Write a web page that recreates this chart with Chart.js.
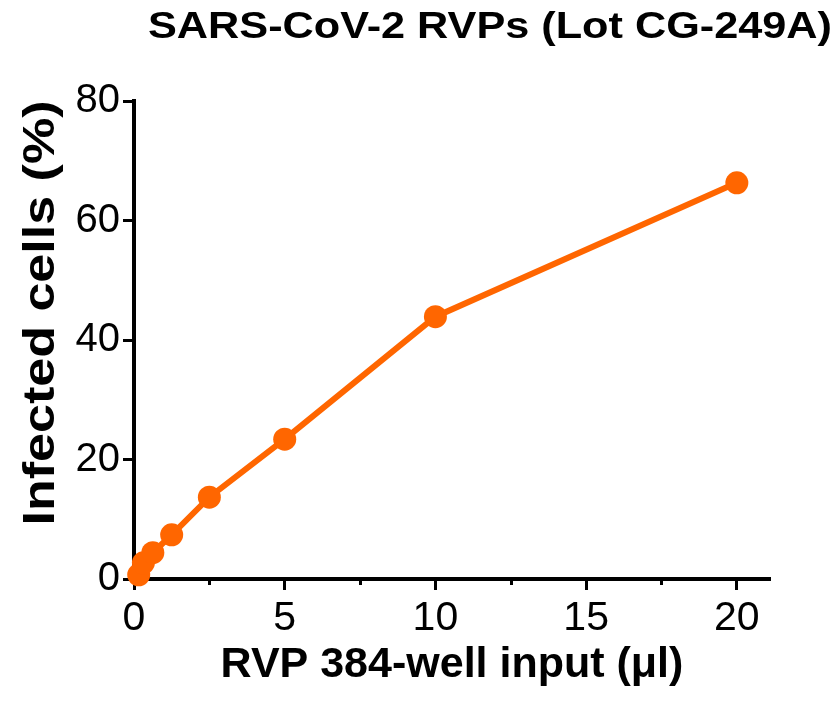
<!DOCTYPE html>
<html>
<head>
<meta charset="utf-8">
<script src="https://cdn.jsdelivr.net/npm/chart.js@4.4.1/dist/chart.umd.min.js"></script>
<style>
  html, body { margin: 0; padding: 0; background: #fff; }
  #wrap { width: 839px; height: 704px; }
</style>
</head>
<body>
<div id="wrap"><canvas id="rvpChart" width="839" height="704"></canvas></div>
<script>
// RVP input (ul) and % infected cells
var rvpInput = [0.156, 0.3125, 0.625, 1.25, 2.5, 5, 10, 20];
var infected = [0.7, 2.7, 4.4, 7.4, 13.7, 23.4, 43.9, 66.3];
var xTicks = [0, 5, 10, 15, 20];
var xMinorTicks = [2.5, 7.5, 12.5, 17.5];
var yTicks = [0, 20, 40, 60, 80];

var FONT = "'Liberation Sans', Arial, Helvetica, sans-serif";
var orange = '#ff6600';

var pts = [];
for (var i = 0; i < rvpInput.length; i++) {
  pts.push({ x: rvpInput[i], y: infected[i] });
}

// draws a text stretched to a given length (the original font runs wide)
function wideText(c, txt, x, y, len, rot) {
  c.save();
  c.translate(x, y);
  c.rotate(rot);
  var w = c.measureText(txt).width;
  c.scale(len / w, 1);
  c.fillText(txt, 0, 0);
  c.restore();
}

var textPlugin = {
  id: 'extraText',
  afterDraw: function(chart) {
    var c = chart.ctx;
    c.save();
    c.fillStyle = '#000';
    c.textAlign = 'center';
    c.textBaseline = 'middle';
    c.font = 'bold 37px ' + FONT;
    wideText(c, 'SARS-CoV-2 RVPs (Lot CG-249A)', 490, 28, 684, 0);
    c.font = 'bold 44px ' + FONT;
    wideText(c, 'Infected cells (%)', 42, 313, 425, -Math.PI / 2);

    // minor ticks on the x axis
    var xs = chart.scales.x;
    c.strokeStyle = '#000';
    c.lineWidth = 3;
    for (var k = 0; k < xMinorTicks.length; k++) {
      var px = Math.round(xs.getPixelForValue(xMinorTicks[k])) + 0.5;
      c.beginPath();
      c.moveTo(px, xs.top);
      c.lineTo(px, xs.top + 6);
      c.stroke();
    }
    c.restore();
  }
};

var ctx = document.getElementById('rvpChart').getContext('2d');
var myChart = new Chart(ctx, {
  type: 'scatter',
  data: {
    datasets: [{
      label: 'Infected cells',
      data: pts,
      showLine: true,
      borderColor: orange,
      backgroundColor: orange,
      borderWidth: 6,
      pointRadius: 11.5,
      pointHoverRadius: 11.5,
      pointBorderWidth: 0,
      clip: false
    }]
  },
  options: {
    responsive: false,
    animation: false,
    layout: { padding: { top: 101, right: 69, left: 0, bottom: 0 } },
    plugins: {
      legend: { display: false },
      tooltip: { enabled: false }
    },
    scales: {
      x: {
        type: 'linear',
        min: 0,
        max: 21.1,
        afterFit: function(s) { s.height = 125; },
        afterBuildTicks: function(s) {
          s.ticks = xTicks.map(function(v) { return { value: v }; });
        },
        border: { display: true, color: '#000', width: 4 },
        grid: { drawOnChartArea: false, drawTicks: true, tickLength: 11, tickColor: '#000', tickWidth: 3 },
        ticks: {
          autoSkip: false,
          maxRotation: 0,
          color: '#000',
          padding: 4,
          font: { family: FONT, size: 41 }
        },
        title: {
          display: true,
          text: 'RVP 384-well input (\u03bcl)',
          color: '#000',
          font: { family: FONT, size: 43, weight: 'bold', lineHeight: 1 },
          padding: { top: 0, bottom: 17 }
        }
      },
      y: {
        min: 0,
        max: 80,
        afterFit: function(s) { s.width = 134; },
        afterBuildTicks: function(s) {
          s.ticks = yTicks.map(function(v) { return { value: v }; });
        },
        border: { display: true, color: '#000', width: 4 },
        grid: { drawOnChartArea: false, drawTicks: true, tickLength: 11, tickColor: '#000', tickWidth: 3 },
        ticks: {
          color: '#000',
          padding: 3,
          font: { family: FONT, size: 40 }
        },
        title: { display: false }
      }
    }
  },
  plugins: [textPlugin]
});
</script>
</body>
</html>
